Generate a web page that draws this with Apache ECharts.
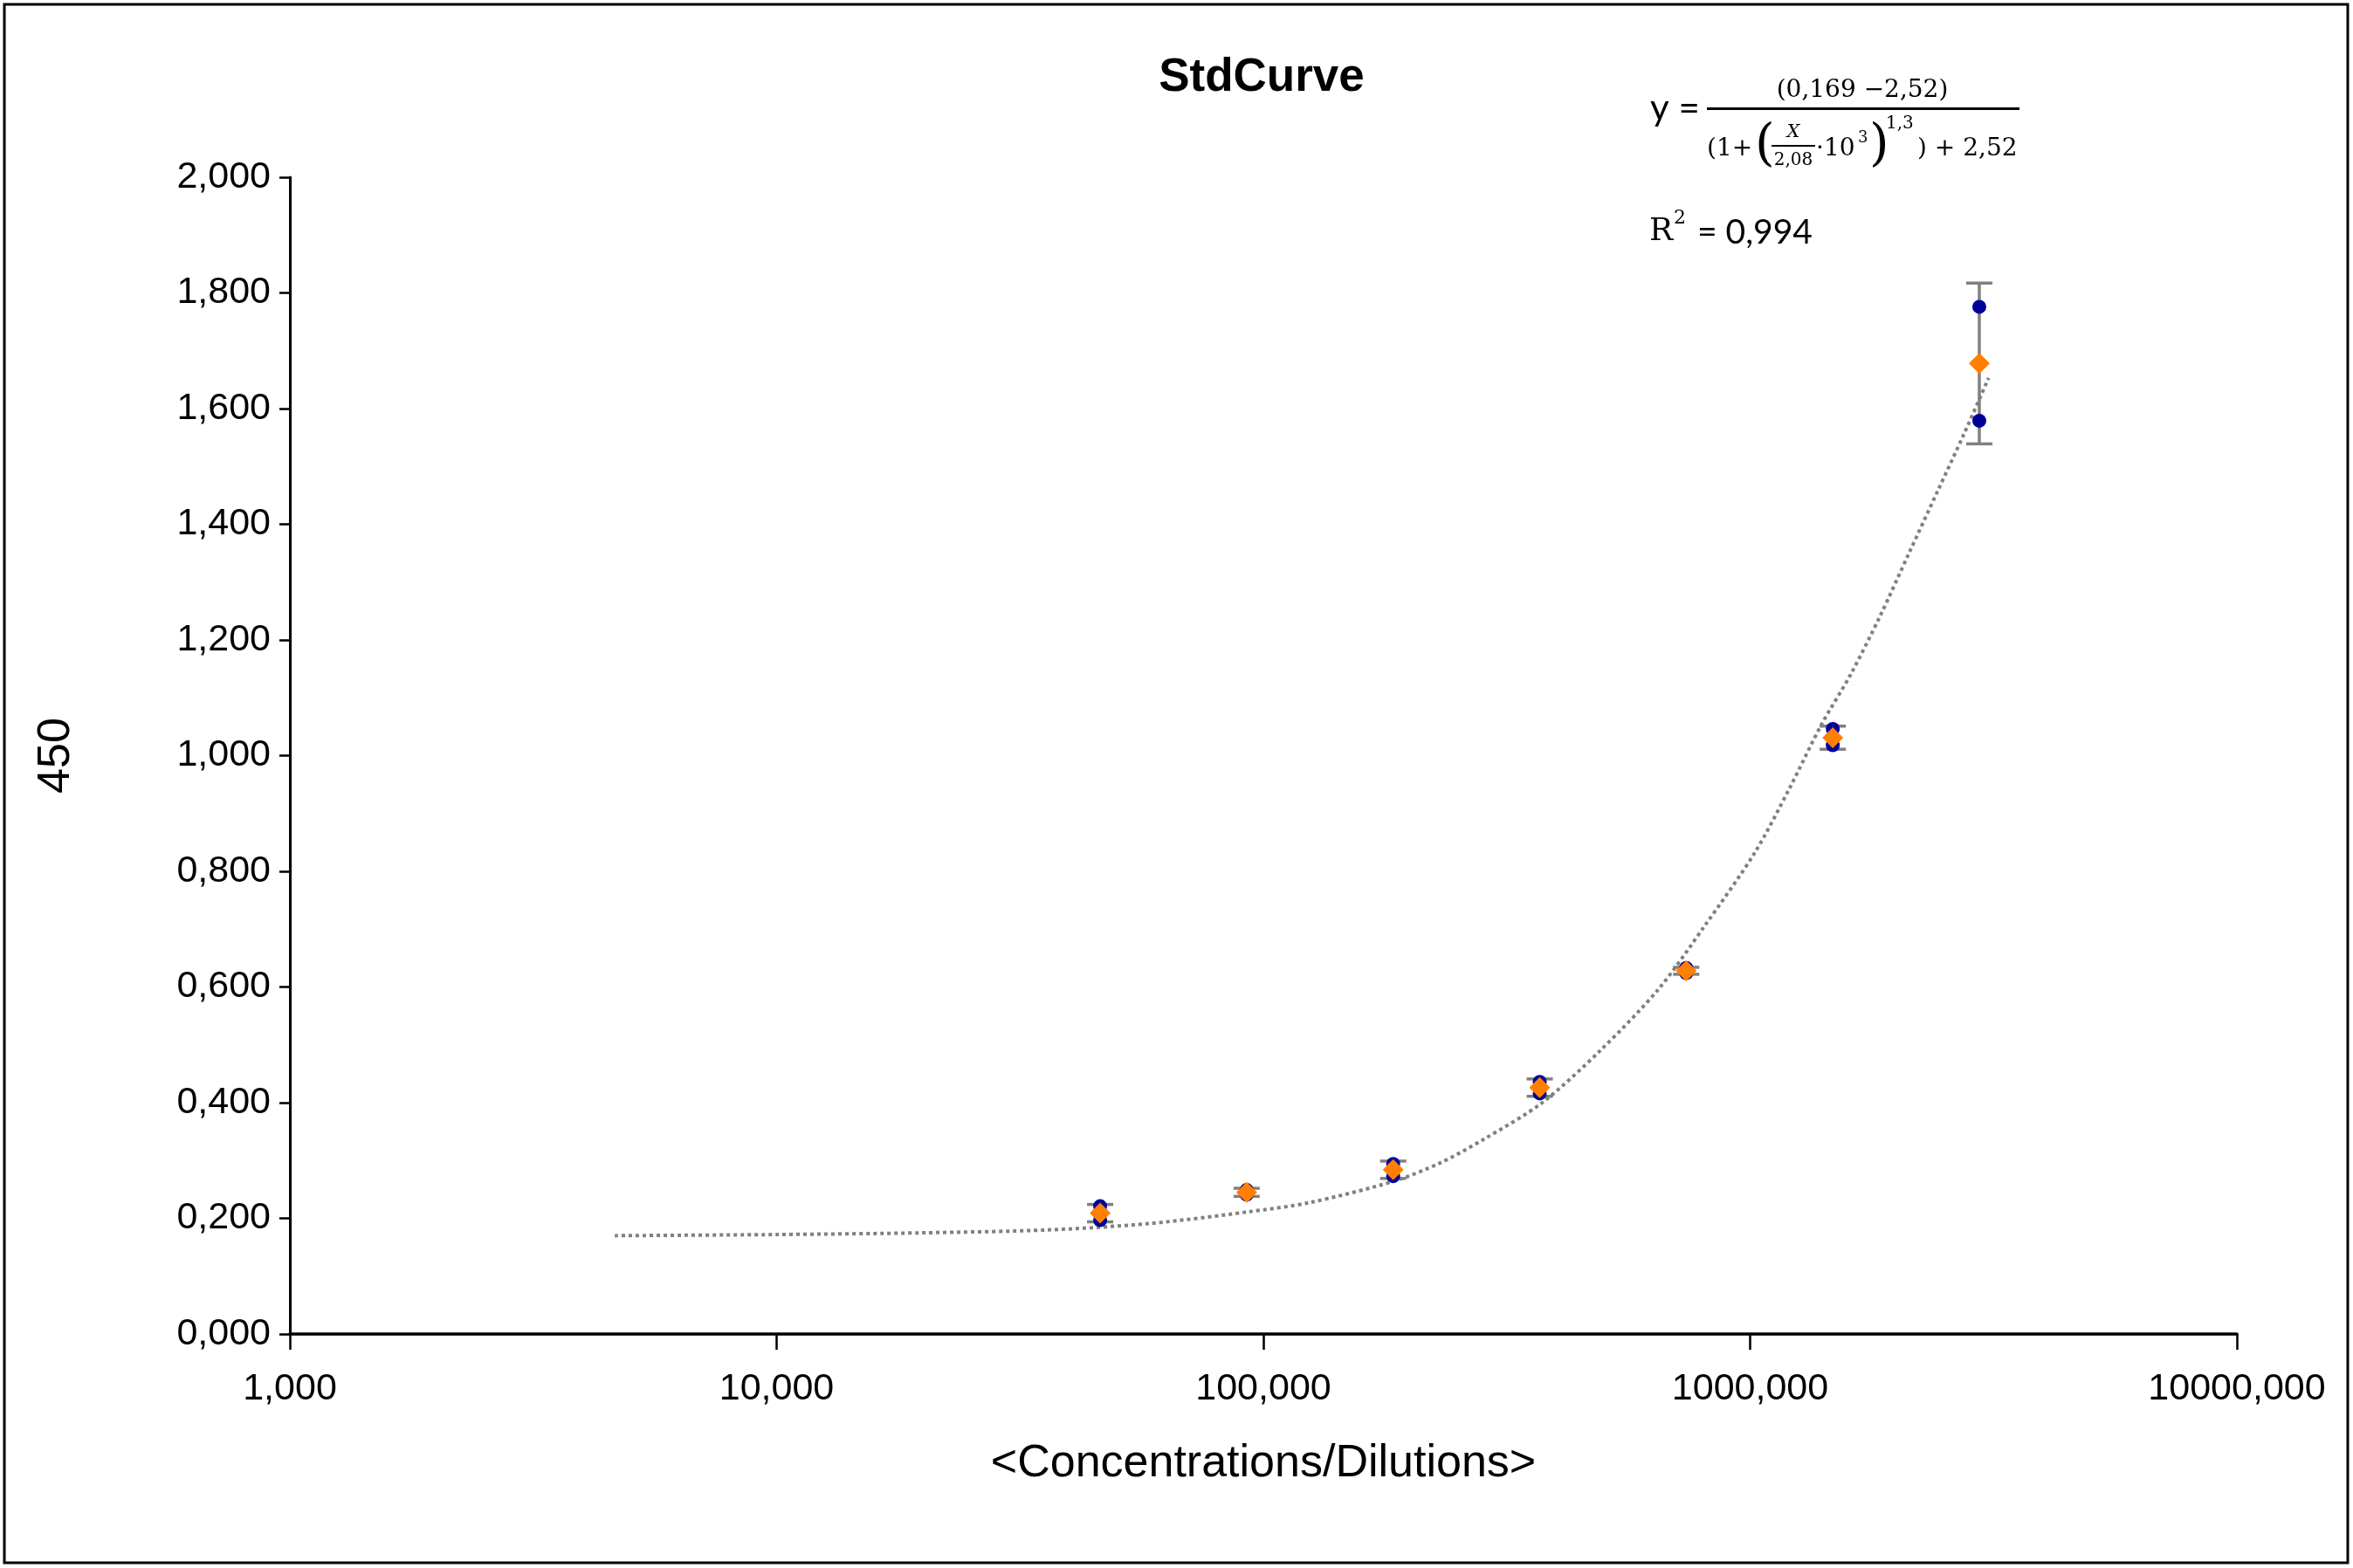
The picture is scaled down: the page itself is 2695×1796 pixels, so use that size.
<!DOCTYPE html>
<html>
<head>
<meta charset="utf-8">
<title>StdCurve</title>
<script src="https://cdn.jsdelivr.net/npm/echarts@6/dist/echarts.min.js"></script>
<style>
  html, body { margin: 0; padding: 0; background: #fff; }
  #chart { width: 2695px; height: 1796px; }
</style>
</head>
<body>
<div id="chart"></div>
<script>
// standards (x = concentration / dilution, y = OD 450)
const concentrations = [46200, 92400, 184800, 369600, 739200, 1478400, 2956800]
const rep1 = [0.221, 0.249, 0.294, 0.436, 0.633, 1.046, 1.776]
const rep2 = [0.197, 0.241, 0.273, 0.416, 0.624, 1.018, 1.579]
const means = [0.209, 0.245, 0.284, 0.426, 0.628, 1.031, 1.678]
const sds = [0.015, 0.007, 0.015, 0.015, 0.006, 0.020, 0.139]

// fitted 4PL curve
const curveX = [4650, 10000, 20000, 36100, 58300, 92500, 124000, 185000, 231000, 284000,
  374000, 492000, 648000, 807000, 1022000, 1204000, 1400000, 1608000, 1846000, 2120000,
  2430000, 2750000, 3090000]
const curveY = [0.170, 0.172, 0.175, 0.180, 0.191, 0.211, 0.227, 0.264, 0.296, 0.337,
  0.400, 0.490, 0.596, 0.706, 0.832, 0.943, 1.053, 1.140, 1.240, 1.350,
  1.458, 1.556, 1.653]

const xTickLabels = ['1,000', '10,000', '100,000', '1000,000', '10000,000']

const chart = echarts.init(document.getElementById('chart'))

const sans = 'Liberation Sans'
const serif = 'DejaVu Serif'
const calib = 'Lato'

// equation block (top right)
const txt = (text, x, y, size, family, extra = {}) => ({
  type: 'text',
  x,
  y,
  silent: true,
  style: Object.assign(
    { text, fontSize: size, fontFamily: family, fill: '#000', align: 'left', verticalAlign: 'middle' },
    extra,
  ),
})

const equation = [
  txt('y =', 1890, 124, 42, calib),
  txt('(0,169 \u22122,52)', 2133, 104, 28, serif, { align: 'center' }),
  { type: 'rect', silent: true, shape: { x: 1955, y: 123, width: 358, height: 3 }, style: { fill: '#000' } },
  txt('(1+', 1955, 171, 28, serif),
  txt('(', 2010, 168, 58, serif),
  txt('X', 2054, 152, 21, serif, { align: 'center', fontStyle: 'italic' }),
  { type: 'rect', silent: true, shape: { x: 2029, y: 166, width: 50, height: 2 }, style: { fill: '#000' } },
  txt('2,08', 2054, 184, 20, serif, { align: 'center' }),
  txt('\u00b710', 2080, 171, 28, serif),
  txt('3', 2128, 158, 18, serif),
  txt(')', 2141, 168, 58, serif),
  txt('1,3', 2160, 142, 20, serif),
  txt(') + 2,52', 2196, 171, 28, serif),
  txt('R', 1889, 266, 36, serif),
  txt('2', 1917, 250, 22, serif),
  txt('= 0,994', 1944, 266, 39, calib),
]

// error bars drawn through the axes
const errorBars = {
  type: 'custom',
  z: 2,
  silent: true,
  data: concentrations.map((c, i) => [c, means[i] - sds[i], means[i] + sds[i]]),
  renderItem: (params, api) => {
    let lo = api.coord([api.value(0), api.value(1)]),
      hi = api.coord([api.value(0), api.value(2)]),
      half = 15,
      st = { stroke: '#808080', lineWidth: 3.5 }
    return {
      type: 'group',
      children: [
        { type: 'line', shape: { x1: lo[0], y1: lo[1], x2: hi[0], y2: hi[1] }, style: st },
        { type: 'line', shape: { x1: lo[0] - half, y1: lo[1], x2: lo[0] + half, y2: lo[1] }, style: st },
        { type: 'line', shape: { x1: hi[0] - half, y1: hi[1], x2: hi[0] + half, y2: hi[1] }, style: st },
      ],
    }
  },
}

chart.setOption({
  animation: false,
  backgroundColor: '#fff',
  textStyle: { fontFamily: sans, color: '#000' },
  title: {
    text: 'StdCurve',
    left: 1445,
    textAlign: 'center',
    top: 63,
    padding: 0,
    textStyle: { fontFamily: sans, fontSize: 53, fontWeight: 'bold', color: '#000' },
  },
  grid: { left: 332, right: 133, top: 203, bottom: 268, containLabel: false },
  xAxis: {
    type: 'log',
    logBase: 10,
    min: 1000,
    max: 10000000,
    name: '<Concentrations/Dilutions>',
    nameLocation: 'middle',
    nameGap: 123,
    nameTextStyle: { fontFamily: sans, fontSize: 52, color: '#000' },
    axisLine: { lineStyle: { color: '#000', width: 3.5 } },
    axisTick: { inside: false, length: 18, lineStyle: { color: '#000', width: 2.5 } },
    minorTick: { show: false },
    splitLine: { show: false },
    axisLabel: {
      fontSize: 43,
      color: '#000',
      margin: 42,
      showMinLabel: true,
      showMaxLabel: true,
      formatter: (v) => xTickLabels[Math.round(Math.log10(v)) - 3],
    },
  },
  yAxis: {
    type: 'value',
    min: 0,
    max: 2,
    interval: 0.2,
    name: '450',
    nameLocation: 'middle',
    nameRotate: 90,
    nameGap: 241,
    nameTextStyle: { fontFamily: sans, fontSize: 52, color: '#000' },
    axisLine: { show: true, lineStyle: { color: '#000', width: 3 } },
    axisTick: { show: true, inside: false, length: 12, lineStyle: { color: '#000', width: 2.5 } },
    splitLine: { show: false },
    axisLabel: {
      fontSize: 43,
      color: '#000',
      margin: 22,
      formatter: (v) => v.toFixed(3).replace('.', ','),
    },
  },
  graphic: [
    {
      type: 'rect',
      silent: true,
      z: -1,
      shape: { x: 5, y: 5, width: 2684, height: 1785 },
      style: { fill: 'none', stroke: '#000', lineWidth: 3 },
    },
    ...equation,
  ],
  series: [
    {
      name: 'fit',
      type: 'line',
      z: 1,
      data: curveX.map((x, i) => [x, curveY[i]]),
      smooth: 0.3,
      showSymbol: false,
      lineStyle: { color: '#808080', width: 4, type: 'dotted' },
    },
    errorBars,
    {
      name: 'replicates',
      type: 'scatter',
      z: 3,
      symbol: 'circle',
      symbolSize: 16,
      itemStyle: { color: '#000099', opacity: 1 },
      data: concentrations.map((c, i) => [c, rep1[i]]).concat(concentrations.map((c, i) => [c, rep2[i]])),
    },
    {
      name: 'mean',
      type: 'scatter',
      z: 4,
      symbol: 'diamond',
      symbolSize: [24, 24],
      itemStyle: { color: '#ff8000', opacity: 1 },
      data: concentrations.map((c, i) => [c, means[i]]),
    },
  ],
})
</script>
</body>
</html>
